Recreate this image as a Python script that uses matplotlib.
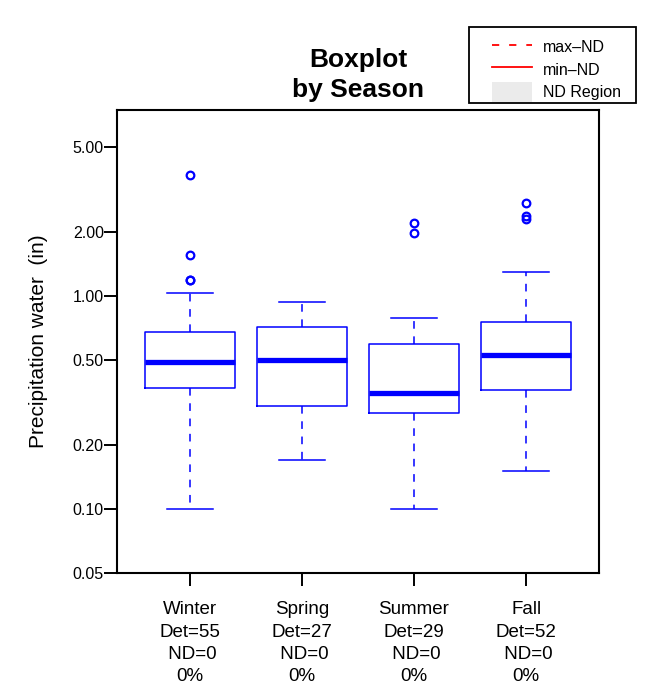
import matplotlib
matplotlib.use("Agg")
import matplotlib.pyplot as plt
from matplotlib.lines import Line2D
from matplotlib.patches import Patch, Rectangle

plt.rcParams['font.family'] = ['Liberation Sans', 'DejaVu Sans']

seasons = ["Winter", "Spring", "Summer", "Fall"]
det = [55, 27, 29, 52]
nd = [0, 0, 0, 0]
pct = ["0%", "0%", "0%", "0%"]
whislo = [0.10, 0.17, 0.10, 0.15]
q1 = [0.37, 0.304, 0.282, 0.36]
med = [0.49, 0.50, 0.35, 0.525]
q3 = [0.677, 0.714, 0.594, 0.754]
whishi = [1.03, 0.936, 0.787, 1.29]
fliers = [[3.69, 1.56, 1.19, 1.18], [], [2.2, 1.97], [2.73, 2.36, 2.30]]
yticks = [0.05, 0.10, 0.20, 0.50, 1.00, 2.00, 5.00]
ytick_labels = ["0.05", "0.10", "0.20", "0.50", "1.00", "2.00", "5.00"]
legend_labels = ["max\u2013ND", "min\u2013ND", "ND Region"]

W, H = 653, 690
fig = plt.figure(figsize=(W/100, H/100), dpi=100)
ax = fig.add_axes([117/W, 1-573/H, (599-117)/W, (573-110)/H])

stats = []
for i, s in enumerate(seasons):
    stats.append(dict(label=f"{s}\nDet={det[i]}\n ND={nd[i]}\n{pct[i]}",
                      whislo=whislo[i], q1=q1[i], med=med[i], q3=q3[i],
                      whishi=whishi[i], fliers=fliers[i]))

blue = "#0000ff"
ax.bxp(stats, positions=[1, 2, 3, 4], widths=0.8, showfliers=True,
       boxprops=dict(color=blue, linewidth=1.1),
       medianprops=dict(color=blue, linewidth=3.8, solid_capstyle='butt'),
       whiskerprops=dict(color=blue, linewidth=1.1, linestyle=(0, (5, 5))),
       capprops=dict(color=blue, linewidth=1.1),
       capwidths=0.41,
       flierprops=dict(marker='o', markerfacecolor='none', markeredgecolor=blue,
                       markersize=5.5, markeredgewidth=1.6, linestyle='none'))

ax.set_yscale('log')
ax.set_ylim(0.05, 7.45)
ax.set_xlim(0.35, 4.65)
ax.set_yticks(yticks)
ax.set_yticklabels(ytick_labels, fontsize=11.5)
ax.yaxis.set_minor_locator(matplotlib.ticker.NullLocator())
ax.tick_params(axis='y', length=9.5, width=1.4, pad=0)
ax.tick_params(axis='x', length=9, width=1.4, pad=11.5, labelsize=13.5)
for lab in ax.get_xticklabels():
    lab.set_linespacing(1.40)
for sp in ax.spines.values():
    sp.set_linewidth(1.5)

ax.set_ylabel("Precipitation water  (in)", fontsize=15, labelpad=18)

fig.text(358/W, 1-60/H, "Boxplot", ha='center', va='center',
         fontsize=19, fontweight='bold')
fig.text(358/W, 1-90/H, "by Season", ha='center', va='center',
         fontsize=19, fontweight='bold')

# legend frame
fig.patches.append(Rectangle((469/W, 1-103/H), (636-469)/W, (103-27)/H,
                             transform=fig.transFigure, facecolor='white',
                             edgecolor='black', linewidth=1.3, zorder=1))
handles = [Line2D([], [], color='red', linestyle=(0, (4, 5.5)), linewidth=1.3),
           Line2D([], [], color='red', linestyle='-', linewidth=1.3),
           Patch(facecolor='#ebebeb', edgecolor='none')]
leg = fig.legend(handles, legend_labels,
                 loc='upper left', bbox_to_anchor=(492/W, 1-37/H),
                 fontsize=11.5, frameon=False, handlelength=2.5,
                 handleheight=1.5, handletextpad=0.7, borderpad=0,
                 labelspacing=0.2, borderaxespad=0)

fig.savefig("out.png", dpi=100)
